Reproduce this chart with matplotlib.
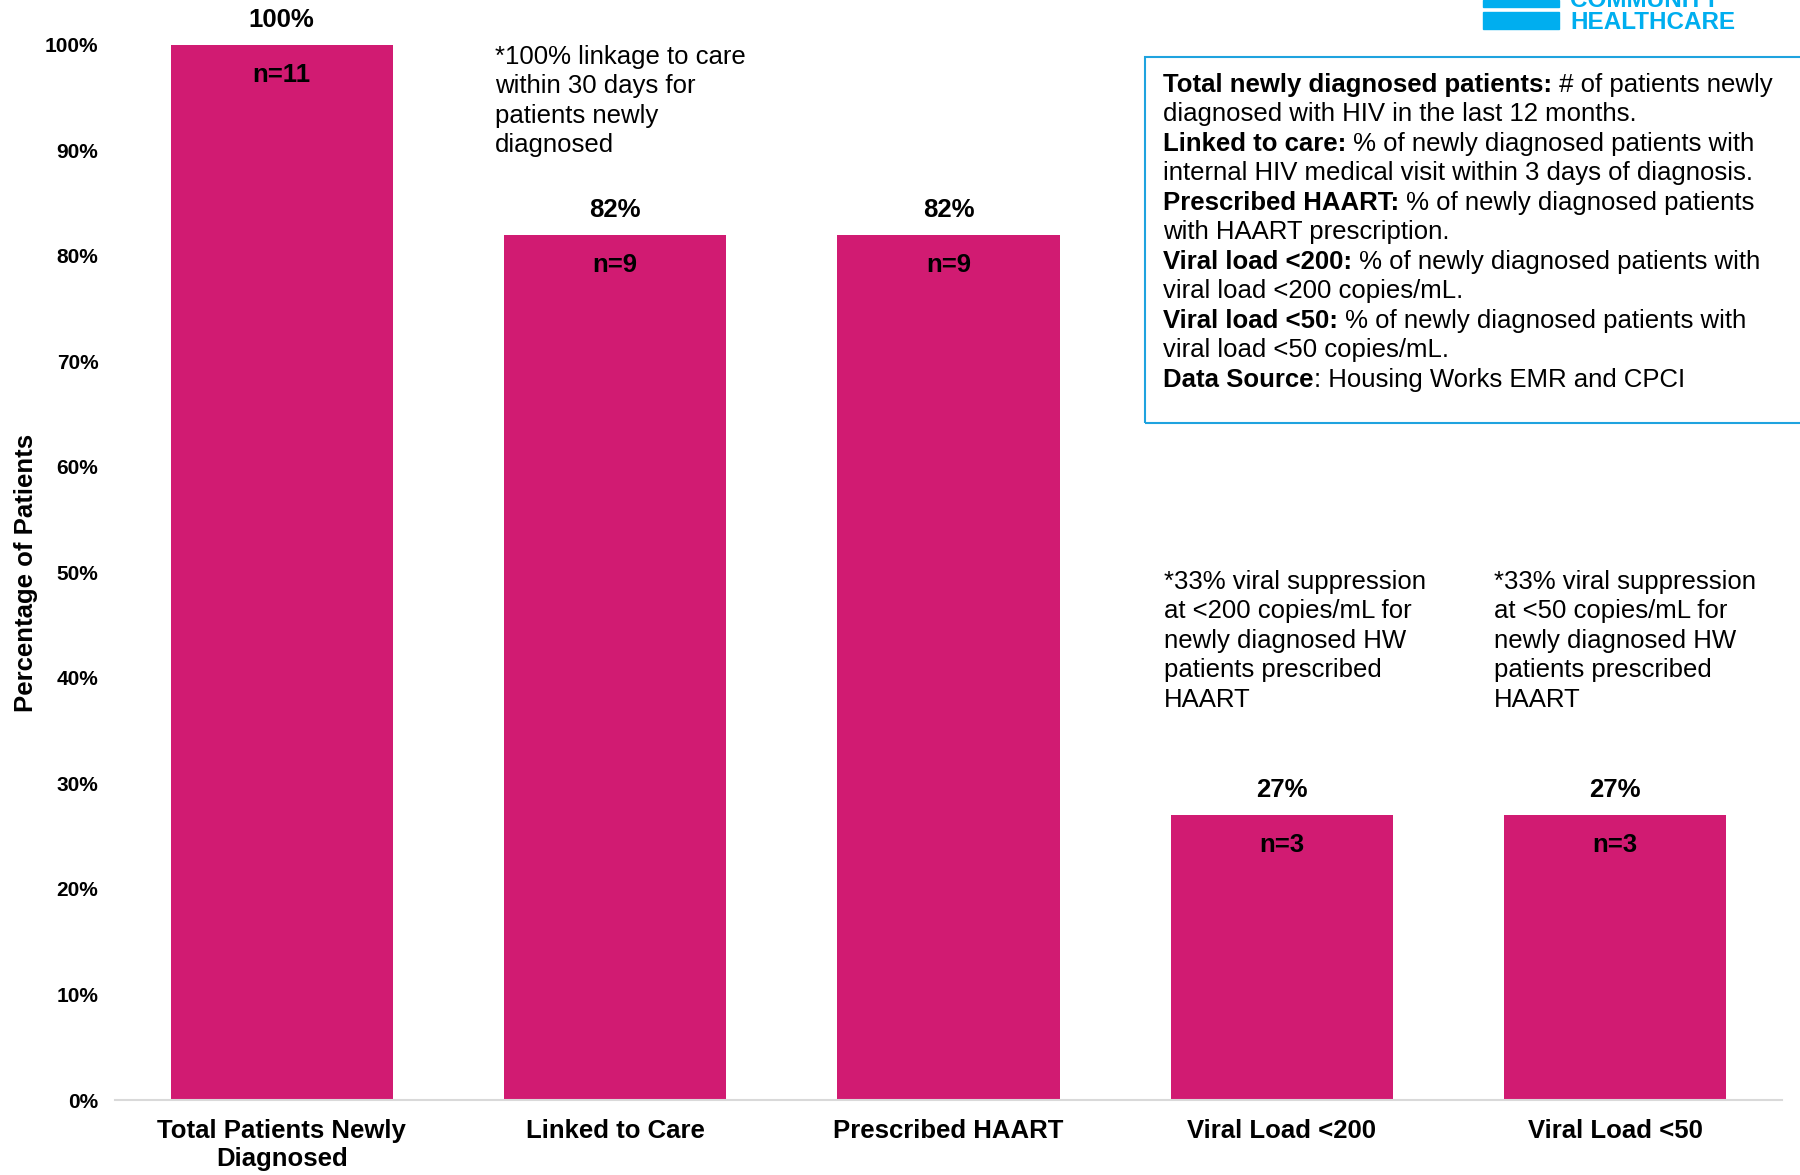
import matplotlib
matplotlib.use("Agg")
import matplotlib.pyplot as plt
from matplotlib.patches import Rectangle

plt.rcParams['font.family'] = ['Liberation Sans', 'DejaVu Sans']

# données
categories = ['Total Patients Newly\nDiagnosed', 'Linked to Care',
              'Prescribed HAART', 'Viral Load <200', 'Viral Load <50']
pourcentages = [100, 82, 82, 27, 27]
effectifs = [11, 9, 9, 3, 3]
y_ticks = [0, 10, 20, 30, 40, 50, 60, 70, 80, 90, 100]

note_lien = ['*100% linkage to care', 'within 30 days for',
             'patients newly', 'diagnosed']
note_200 = ['*33% viral suppression', 'at <200 copies/mL for',
            'newly diagnosed HW', 'patients prescribed', 'HAART']
note_50 = ['*33% viral suppression', 'at <50 copies/mL for',
           'newly diagnosed HW', 'patients prescribed', 'HAART']

# (partie en gras, suite en normal)
definitions = [
    ('Total newly diagnosed patients:', ' # of patients newly'),
    ('', 'diagnosed with HIV in the last 12 months.'),
    ('Linked to care:', ' % of newly diagnosed patients with'),
    ('', 'internal HIV medical visit within 3 days of diagnosis.'),
    ('Prescribed HAART:', ' % of newly diagnosed patients'),
    ('', 'with HAART prescription.'),
    ('Viral load <200:', ' % of newly diagnosed patients with'),
    ('', 'viral load <200 copies/mL.'),
    ('Viral load <50:', ' % of newly diagnosed patients with'),
    ('', 'viral load <50 copies/mL.'),
    ('Data Source', ': Housing Works EMR and CPCI'),
]

ROSE = '#d11b72'
BLEU = '#00aeef'
W, H = 1800, 1175
FS = 18.5


def fx(px):
    return px / W


def fy(py):
    return 1 - py / H


fig = plt.figure(figsize=(18, 11.75), dpi=100)
ax = fig.add_axes([fx(115), fy(1100), fx(1782) - fx(115), fy(44.8) - fy(1100)])

x = list(range(len(categories)))
ax.bar(x, pourcentages, width=0.667, color=ROSE, edgecolor='none', zorder=2)
ax.set_xlim(-0.5, len(categories) - 0.5)
ax.set_ylim(0, 100)

for s in ['top', 'right', 'left']:
    ax.spines[s].set_visible(False)
ax.spines['bottom'].set_color('#d9d9d9')
ax.spines['bottom'].set_linewidth(1.5)
ax.spines['bottom'].set_zorder(3)

ax.set_yticks(y_ticks, [f'{v}%' for v in y_ticks], fontsize=15, fontweight='bold')
ax.set_xticks(x, categories, fontsize=FS, fontweight='bold')
ax.tick_params(axis='y', length=0, pad=12)
ax.tick_params(axis='x', length=0, pad=14)

# étiquettes des barres
for i, (p, n) in enumerate(zip(pourcentages, effectifs)):
    ax.annotate(f'{p}%', (i, p), xytext=(0, 25 * 0.72), textcoords='offset points',
                ha='center', va='center', fontsize=FS, fontweight='bold')
    ax.annotate(f'n={n}', (i, p), xytext=(0, -30 * 0.72), textcoords='offset points',
                ha='center', va='center', fontsize=FS, fontweight='bold')

fig.text(fx(26), fy(573), 'Percentage of Patients', rotation=90,
         ha='center', va='center', fontsize=FS, fontweight='bold')

# notes
for lignes, x0, y0 in [(note_lien, 495, 64), (note_200, 1164, 589), (note_50, 1494, 589)]:
    for k, ligne in enumerate(lignes):
        fig.text(fx(x0), fy(y0 + k * 29.4), ligne, ha='left', va='baseline', fontsize=FS)

# encadré des définitions
fig.patches.append(Rectangle((fx(1145), fy(422.5)), fx(700), fy(57.4) - fy(422.5),
                             transform=fig.transFigure, fill=False,
                             edgecolor='#1fa3df', linewidth=1.5))
for k, (gras, reste) in enumerate(definitions):
    yb = fy(91.7 + k * 29.5)
    if gras:
        t = fig.text(fx(1163), yb, gras, ha='left', va='baseline',
                     fontsize=FS, fontweight='bold')
        ax.annotate(reste, xy=(1, 0), xycoords=t, ha='left', va='bottom',
                    fontsize=FS, annotation_clip=False)
    else:
        fig.text(fx(1163), yb, reste, ha='left', va='baseline', fontsize=FS)

# logo (coupé en haut comme sur l'original)
fig.patches.append(Rectangle((fx(1483), fy(7)), fx(76), fy(0) - fy(7),
                             transform=fig.transFigure, color=BLEU))
fig.patches.append(Rectangle((fx(1483), fy(29)), fx(76), fy(12) - fy(29),
                             transform=fig.transFigure, color=BLEU))
fig.text(fx(1570), fy(7), 'COMMUNITY', color=BLEU, fontsize=17.5,
         fontweight='bold', ha='left', va='baseline')
fig.text(fx(1570), fy(29), 'HEALTHCARE', color=BLEU, fontsize=17.5,
         fontweight='bold', ha='left', va='baseline')

fig.savefig('out.png', dpi=100)
